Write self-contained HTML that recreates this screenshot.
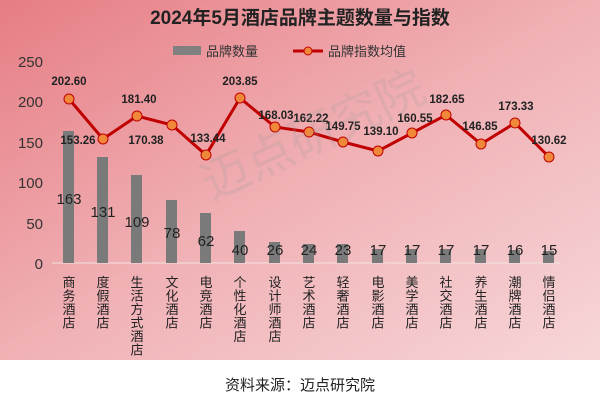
<!DOCTYPE html><html><head><meta charset="utf-8"><style>body{margin:0}svg{display:block}</style></head><body>
<svg width="600" height="404" xmlns="http://www.w3.org/2000/svg" font-family="Liberation Sans, Noto Sans CJK SC, sans-serif">
<defs><linearGradient id="g" x1="0" y1="0" x2="1" y2="1"><stop offset="0" stop-color="#e67d84"/><stop offset="0.5" stop-color="#f0b1b5"/><stop offset="1" stop-color="#f7d6d8"/></linearGradient></defs>
<rect width="600" height="404" fill="#fff"/>
<rect width="600" height="360" fill="url(#g)"/>
<text x="300" y="24" text-anchor="middle" font-size="19" font-weight="bold" fill="#222">2024年5月酒店品牌主题数量与指数</text>
<rect x="173" y="46" width="28" height="9" fill="#808080"/><text x="206" y="56" font-size="13" fill="#333">品牌数量</text>
<line x1="293" y1="51" x2="323" y2="51" stroke="#c00000" stroke-width="3"/><circle cx="308" cy="51" r="4" fill="#f0883a" stroke="#c00000"/><text x="328" y="56" font-size="13" fill="#333">品牌指数均值</text>
<g font-size="15" fill="#333" text-anchor="end"><text x="43" y="67">250</text><text x="43" y="107">200</text><text x="43" y="148">150</text><text x="43" y="188">100</text><text x="43" y="229">50</text><text x="43" y="269">0</text></g>
<line x1="52" y1="263" x2="560" y2="263" stroke="#f4e2e2" stroke-width="1"/>
<g fill="#7a7a7a">
<rect x="63" y="131" width="11" height="132"/><rect x="97" y="157" width="11" height="106"/><rect x="131" y="175" width="11" height="88"/><rect x="166" y="200" width="11" height="63"/><rect x="200" y="213" width="11" height="50"/><rect x="234" y="231" width="11" height="32"/><rect x="269" y="242" width="11" height="21"/><rect x="303" y="244" width="11" height="19"/><rect x="337" y="244" width="11" height="19"/><rect x="372" y="249" width="11" height="14"/><rect x="406" y="249" width="11" height="14"/><rect x="440" y="249" width="11" height="14"/><rect x="475" y="249" width="11" height="14"/><rect x="509" y="250" width="11" height="13"/><rect x="543" y="251" width="11" height="12"/></g>
<g font-size="15" fill="#222" text-anchor="middle">
<text x="69" y="204">163</text><text x="103" y="217">131</text><text x="137" y="227">109</text><text x="172" y="238">78</text><text x="206" y="246">62</text><text x="240" y="255">40</text><text x="275" y="255">26</text><text x="309" y="255">24</text><text x="343" y="255">23</text><text x="378" y="255">17</text><text x="412" y="255">17</text><text x="446" y="255">17</text><text x="481" y="255">17</text><text x="515" y="255">16</text><text x="549" y="255">15</text></g>
<polyline fill="none" stroke="#c00000" stroke-width="3" points="69,99 103,139 137,116 172,125 206,155 240,98 275,127 309,132 343,142 378,151 412,133 446,115 481,144 515,123 549,157"/>
<g fill="#f0883a" stroke="#c00000" stroke-width="1"><circle cx="69" cy="99" r="5"/><circle cx="103" cy="139" r="5"/><circle cx="137" cy="116" r="5"/><circle cx="172" cy="125" r="5"/><circle cx="206" cy="155" r="5"/><circle cx="240" cy="98" r="5"/><circle cx="275" cy="127" r="5"/><circle cx="309" cy="132" r="5"/><circle cx="343" cy="142" r="5"/><circle cx="378" cy="151" r="5"/><circle cx="412" cy="133" r="5"/><circle cx="446" cy="115" r="5"/><circle cx="481" cy="144" r="5"/><circle cx="515" cy="123" r="5"/><circle cx="549" cy="157" r="5"/></g>
<g font-size="11.5" font-weight="bold" fill="#222" text-anchor="middle">
<text x="69" y="85">202.60</text><text x="78" y="144">153.26</text><text x="139" y="103">181.40</text><text x="146" y="144">170.38</text><text x="208" y="142">133.44</text><text x="240" y="85">203.85</text><text x="276" y="119">168.03</text><text x="311" y="122">162.22</text><text x="343" y="130">149.75</text><text x="381" y="135">139.10</text><text x="415" y="122">160.55</text><text x="447" y="103">182.65</text><text x="480" y="130">146.85</text><text x="516" y="110">173.33</text><text x="549" y="144">130.62</text></g>
<text x="320" y="150" font-size="48" fill="#999" fill-opacity="0.2" transform="rotate(-25 320 150)" text-anchor="middle">迈点研究院</text>
<g font-size="13" fill="#222" text-anchor="middle">
<text><tspan x="69" y="287">商</tspan><tspan x="69" y="300.5">务</tspan><tspan x="69" y="314">酒</tspan><tspan x="69" y="327.5">店</tspan></text>
<text><tspan x="103" y="287">度</tspan><tspan x="103" y="300.5">假</tspan><tspan x="103" y="314">酒</tspan><tspan x="103" y="327.5">店</tspan></text>
<text><tspan x="137" y="287">生</tspan><tspan x="137" y="300.5">活</tspan><tspan x="137" y="314">方</tspan><tspan x="137" y="327.5">式</tspan><tspan x="137" y="341">酒</tspan><tspan x="137" y="354.5">店</tspan></text>
<text><tspan x="172" y="287">文</tspan><tspan x="172" y="300.5">化</tspan><tspan x="172" y="314">酒</tspan><tspan x="172" y="327.5">店</tspan></text>
<text><tspan x="206" y="287">电</tspan><tspan x="206" y="300.5">竞</tspan><tspan x="206" y="314">酒</tspan><tspan x="206" y="327.5">店</tspan></text>
<text><tspan x="240" y="287">个</tspan><tspan x="240" y="300.5">性</tspan><tspan x="240" y="314">化</tspan><tspan x="240" y="327.5">酒</tspan><tspan x="240" y="341">店</tspan></text>
<text><tspan x="275" y="287">设</tspan><tspan x="275" y="300.5">计</tspan><tspan x="275" y="314">师</tspan><tspan x="275" y="327.5">酒</tspan><tspan x="275" y="341">店</tspan></text>
<text><tspan x="309" y="287">艺</tspan><tspan x="309" y="300.5">术</tspan><tspan x="309" y="314">酒</tspan><tspan x="309" y="327.5">店</tspan></text>
<text><tspan x="343" y="287">轻</tspan><tspan x="343" y="300.5">奢</tspan><tspan x="343" y="314">酒</tspan><tspan x="343" y="327.5">店</tspan></text>
<text><tspan x="378" y="287">电</tspan><tspan x="378" y="300.5">影</tspan><tspan x="378" y="314">酒</tspan><tspan x="378" y="327.5">店</tspan></text>
<text><tspan x="412" y="287">美</tspan><tspan x="412" y="300.5">学</tspan><tspan x="412" y="314">酒</tspan><tspan x="412" y="327.5">店</tspan></text>
<text><tspan x="446" y="287">社</tspan><tspan x="446" y="300.5">交</tspan><tspan x="446" y="314">酒</tspan><tspan x="446" y="327.5">店</tspan></text>
<text><tspan x="481" y="287">养</tspan><tspan x="481" y="300.5">生</tspan><tspan x="481" y="314">酒</tspan><tspan x="481" y="327.5">店</tspan></text>
<text><tspan x="515" y="287">潮</tspan><tspan x="515" y="300.5">牌</tspan><tspan x="515" y="314">酒</tspan><tspan x="515" y="327.5">店</tspan></text>
<text><tspan x="549" y="287">情</tspan><tspan x="549" y="300.5">侣</tspan><tspan x="549" y="314">酒</tspan><tspan x="549" y="327.5">店</tspan></text>
</g>
<text x="300" y="390" text-anchor="middle" font-size="15" fill="#222">资料来源：迈点研究院</text>
</svg></body></html>
